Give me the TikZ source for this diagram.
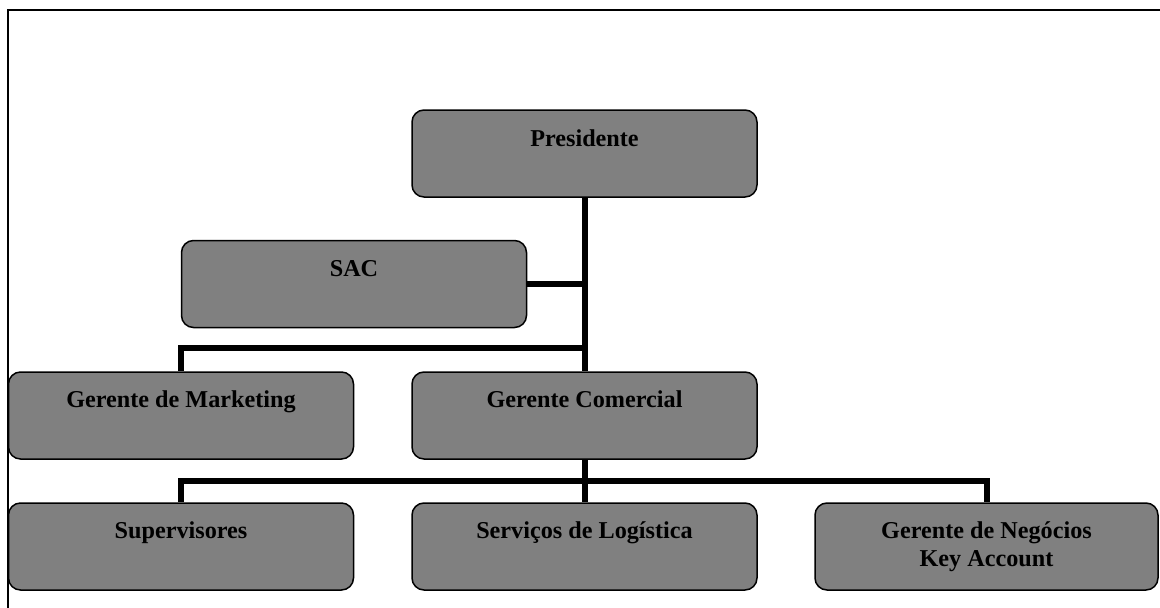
\documentclass[tikz,border=0pt]{standalone}
\usepackage{fontspec}
\setmainfont{Liberation Serif}
\begin{document}
\begin{tikzpicture}[x=1pt,y=-1pt,
  unit/.style={draw=black, line width=1.5pt, fill=boxgray, rounded corners=12pt,
    minimum width=345pt, minimum height=87pt, inner sep=0pt},
  lbl/.style={font=\bfseries\fontsize{24.2}{28}\selectfont, text=black, inner sep=0pt, anchor=base},
  conn/.style={draw=black, line width=6pt, line join=miter, line cap=butt}]
\definecolor{boxgray}{HTML}{808080}
\useasboundingbox (0,0) rectangle (1160,608);

% outer frame (top and left edges)
\draw[line width=2pt, draw=black] (7.5,608) -- (7.5,9.5) -- (1160,9.5);

% units
\node[unit] (pres) at (584.5,153.5) {};
\node[unit] (sac)  at (354,284) {};
\node[unit] (mkt)  at (181,415.5) {};
\node[unit] (com)  at (584.5,415.5) {};
\node[unit] (sup)  at (181,546.5) {};
\node[unit] (log)  at (584.5,546.5) {};
\node[unit, minimum width=343pt] (neg) at (986.5,546.5) {};

% unit titles
\node[lbl] (presT) at ([yshift=-37pt]pres.north) {Presidente};
\node[lbl] (sacT)  at ([yshift=-37pt]sac.north) {SAC};
\node[lbl] (mktT)  at ([yshift=-36.5pt]mkt.north) {Gerente de Marketing};
\node[lbl] (comT)  at ([yshift=-36.5pt]com.north) {Gerente Comercial};
\node[lbl] (supT)  at ([yshift=-36.5pt]sup.north) {Supervisores};
\node[lbl] (logT)  at ([yshift=-36.5pt]log.north) {Serviços de Logística};
\node[lbl] (negT)  at ([yshift=-36pt]neg.north) {Gerente de Negócios};
\node[lbl] (negT2) at ([yshift=-64pt]neg.north) {Key Account};

% reporting lines
\coordinate (j1) at (pres.south |- 0,348);
\coordinate (j2) at (com.south |- 0,481);
\draw[conn] (pres.south) -- (com.north);
\draw[conn] (sac.east) -- (sac.east -| pres.south);
\draw[conn] (j1) -| (mkt.north);
\draw[conn] (com.south) -- (log.north);
\draw[conn] (sup.north) |- (j2) -| (neg.north);
\end{tikzpicture}
\end{document}
